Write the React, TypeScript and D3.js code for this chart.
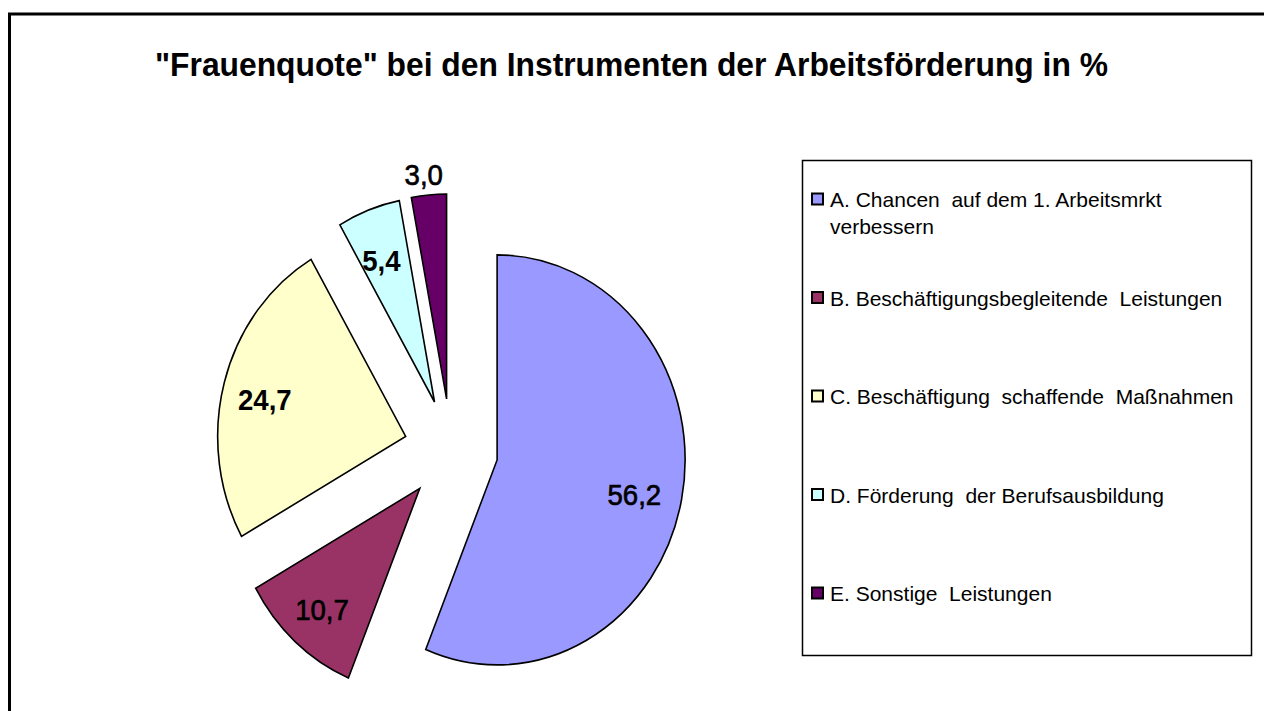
import React, { useRef, useEffect } from 'react';
import * as d3 from 'd3';

const categories = ['A', 'B', 'C', 'D', 'E'];
const legendLabels = [
    ['A. Chancen  auf dem 1. Arbeitsmrkt', 'verbessern'],
    ['B. Beschäftigungsbegleitende  Leistungen'],
    ['C. Beschäftigung  schaffende  Maßnahmen'],
    ['D. Förderung  der Berufsausbildung'],
    ['E. Sonstige  Leistungen'],
];
const values = [56.2, 10.7, 24.7, 5.4, 3.0];
const valueLabels = ['56,2', '10,7', '24,7', '5,4', '3,0'];
const colors = ['#9999FF', '#993366', '#FFFFCC', '#CCFFFF', '#660066'];
const boldLabels = ['C', 'D'];

const title = '"Frauenquote" bei den Instrumenten der Arbeitsförderung in %';

const App = () => {
    const svgRef = useRef(null);

    useEffect(() => {
        const width = 1264;
        const height = 711;
        const svg = d3.select(svgRef.current)
            .attr('width', width)
            .attr('height', height);
        svg.selectAll('*').remove();

        svg.append('rect')
            .attr('width', width)
            .attr('height', height)
            .attr('fill', '#fff');

        // outer chart frame (runs off right and bottom)
        svg.append('rect')
            .attr('x', 9.5)
            .attr('y', 14)
            .attr('width', 1400)
            .attr('height', 900)
            .attr('fill', 'none')
            .attr('stroke', '#000')
            .attr('stroke-width', 3);

        svg.append('text')
            .attr('x', 631.5)
            .attr('y', 76)
            .attr('text-anchor', 'middle')
            .attr('textLength', 953)
            .attr('lengthAdjust', 'spacingAndGlyphs')
            .style('font-family', '"Liberation Sans", Arial, sans-serif')
            .style('font-weight', 'bold')
            .style('font-size', '34px')
            .text(title);

        // pie (slightly elliptical, every slice exploded)
        const cx = 451, cy = 450;
        const ry = 205, rx = 188;
        const sx = rx / ry;
        const explode = 0.25;

        const pie = d3.pie().sort(null).value(d => d);
        const arcs = pie(values);
        const arc = d3.arc().innerRadius(0).outerRadius(ry);

        const g = svg.append('g');
        arcs.forEach((a, i) => {
            const mid = (a.startAngle + a.endAngle) / 2;
            const ox = cx + explode * rx * Math.sin(mid);
            const oy = cy - explode * ry * Math.cos(mid);
            g.append('path')
                .attr('d', arc(a))
                .attr('transform', `translate(${ox},${oy}) scale(${sx},1)`)
                .attr('fill', colors[i])
                .attr('stroke', '#000')
                .attr('stroke-width', 1.6)
                .attr('stroke-linejoin', 'miter')
                .attr('vector-effect', 'non-scaling-stroke');
        });

        arcs.forEach((a, i) => {
            const mid = (a.startAngle + a.endAngle) / 2;
            const ox = cx + explode * rx * Math.sin(mid);
            const oy = cy - explode * ry * Math.cos(mid);
            const f = values[i] < 4 ? 1.12 : 0.76;
            const lx = ox + f * rx * Math.sin(mid);
            const ly = oy - f * ry * Math.cos(mid) + 4;
            const bold = boldLabels.includes(categories[i]);
            g.append('text')
                .attr('transform', `translate(${lx - 3},${ly}) scale(0.92,1)`)
                .attr('dy', '0.36em')
                .attr('text-anchor', 'middle')
                .attr('stroke', bold ? 'none' : '#000')
                .attr('stroke-width', 0.7)
                .style('font-family', '"Liberation Sans", Arial, sans-serif')
                .style('font-weight', bold ? 'bold' : 'normal')
                .style('font-size', '30px')
                .text(valueLabels[i]);
        });

        // legend
        const legend = svg.append('g');
        legend.append('rect')
            .attr('x', 802.5)
            .attr('y', 160.5)
            .attr('width', 449)
            .attr('height', 495)
            .attr('fill', '#fff')
            .attr('stroke', '#000')
            .attr('stroke-width', 1.5);

        const rowY = d3.scalePoint()
            .domain(categories)
            .range([207, 601]);

        categories.forEach((c, i) => {
            const y = rowY(c);
            legend.append('rect')
                .attr('x', 812)
                .attr('y', y - 13.5)
                .attr('width', 11)
                .attr('height', 11)
                .attr('fill', colors[i])
                .attr('stroke', '#000')
                .attr('stroke-width', 2);
            legendLabels[i].forEach((line, j) => {
                legend.append('text')
                    .attr('x', 830)
                    .attr('y', y + j * 26.5)
                    .style('font-family', '"Liberation Sans", Arial, sans-serif')
                    .style('font-size', '21px')
                    .style('white-space', 'pre')
                    .text(line);
            });
        });
    }, []);

    return (
        <div style={{ position: 'fixed', left: 0, top: 0 }}>
            <svg ref={svgRef} style={{ display: 'block' }}></svg>
        </div>
    );
};

export default App;
